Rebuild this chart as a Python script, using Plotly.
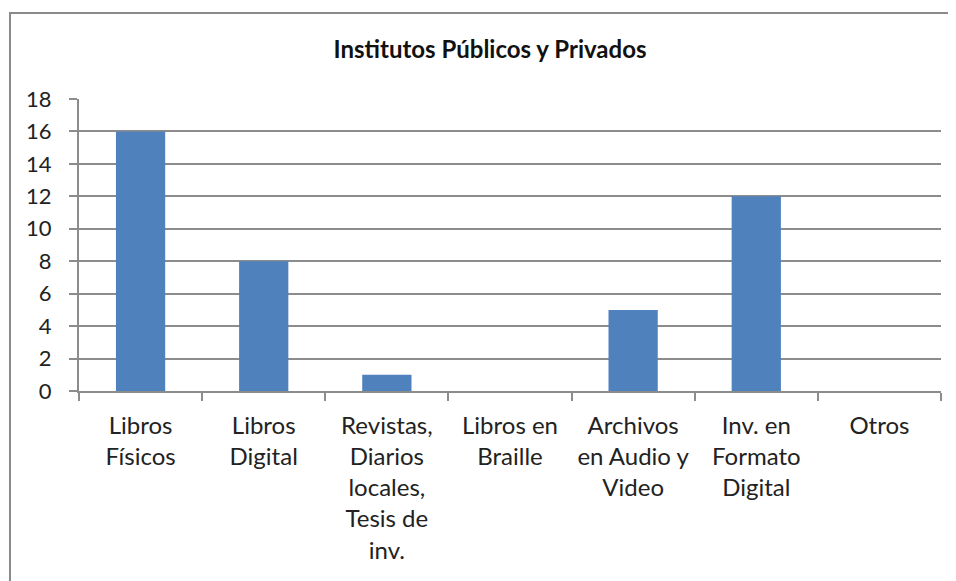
import plotly.graph_objects as go

categorias = [
    "Libros<br>Físicos",
    "Libros<br>Digital",
    "Revistas,<br>Diarios<br>locales,<br>Tesis de<br>inv.",
    "Libros en<br>Braille",
    "Archivos<br>en Audio y<br>Video",
    "Inv. en<br>Formato<br>Digital",
    "Otros",
]
valores = [16, 8, 1, 0, 5, 12, 0]
y_ticks = list(range(0, 19, 2))

_BAR = "#4F81BD"
_GRID = "#8C8C8C"
_FONT = "Lato, Open Sans, sans-serif"

# page body has an 8px margin, so figure coords = screen coords - 8
OFF = 8
W, H = 956, 581
L, T = 79 - OFF, 99 - OFF
R = W - (941 - OFF)
B = H - (391 - OFF)
pw, ph = W - L - R, H - T - B


def px_x(x):
    return (x - OFF - L) / pw


def px_y(y):
    return (H - B - (y - OFF)) / ph


fig = go.Figure(
    go.Bar(
        x=categorias, y=valores,
        marker_color=_BAR,
        marker_line_width=0,
        showlegend=False,
    )
)

# outer chart frame (cut by the page edge at right/bottom)
fig.add_shape(
    type="rect", xref="paper", yref="paper",
    x0=px_x(10), x1=px_x(1000), y0=px_y(640), y1=px_y(13),
    line=dict(color="#8A8A8A", width=2), fillcolor="rgba(0,0,0,0)",
    layer="below",
)

fig.update_layout(
    width=W, height=H,
    paper_bgcolor="white", plot_bgcolor="white",
    margin=dict(l=L, r=R, t=T, b=B),
    bargap=0.6,
    font=dict(family=_FONT, color="#222", size=21),
    title=dict(
        text="<b>Institutos Públicos y Privados</b>",
        x=px_x(490), xanchor="center", xref="paper",
        y=1 - (50 - OFF) / H, yanchor="middle",
        font=dict(size=24, family=_FONT, color="#111"),
    ),
    xaxis=dict(
        showgrid=False,
        showline=True, linecolor=_GRID, linewidth=2,
        ticks="outside", ticklen=8, tickcolor=_GRID, tickwidth=2,
        tickson="boundaries",
        ticklabelstandoff=12,
        tickfont=dict(size=24),
    ),
    yaxis=dict(
        range=[0, 18],
        tickvals=y_ticks,
        showgrid=True, gridcolor=_GRID, gridwidth=1.5,
        showline=True, linecolor=_GRID, linewidth=2,
        zeroline=False,
        ticks="outside", ticklen=8, tickcolor=_GRID, tickwidth=2,
        ticklabelstandoff=13,
        tickfont=dict(size=22),
    ),
)

fig.write_html("out.html")
